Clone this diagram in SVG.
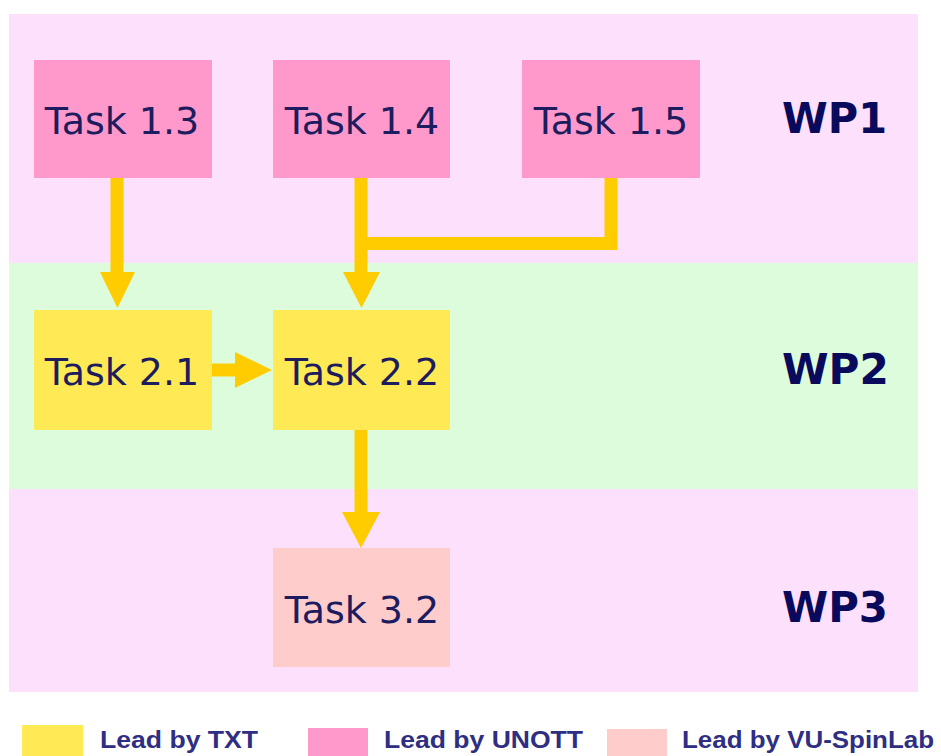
<svg xmlns="http://www.w3.org/2000/svg" width="941" height="756" viewBox="0 0 941 756">
  <style>
    .task text { font-family: "DejaVu Sans", Verdana, sans-serif; font-size: 38px; fill: #1c1c5e; text-anchor: middle; }
    .wp { font-family: "DejaVu Sans", Verdana, sans-serif; font-size: 42px; font-weight: bold; fill: #0a0a5c; }
    .legend text { font-family: "Liberation Sans", Arial, sans-serif; font-size: 24px; font-weight: bold; fill: #2e2e82; }
    .wp1 { fill: #ff99cc; }
    .wp2 { fill: #ffe955; }
    .wp3 { fill: #ffcccc; }
    .link { fill: none; stroke: #ffcc00; stroke-width: 13; }
    .head { fill: #ffcc00; }
  </style>

  <rect width="941" height="756" fill="#ffffff"/>

  <!-- work-package bands -->
  <g id="bands">
    <rect x="9" y="14" width="909" height="249" fill="#fde0fb"/>
    <rect x="9" y="263" width="909" height="226" fill="#ddfcdc"/>
    <rect x="9" y="489" width="909" height="203" fill="#fde0fb"/>
  </g>

  <!-- connectors -->
  <g id="connectors">
    <path class="link" d="M117,178 V273"/>
    <polygon class="head" points="100,272 135,272 117.5,308"/>

    <path class="link" d="M361,178 V273"/>
    <path class="link" d="M611,178 V243.5 H361"/>
    <polygon class="head" points="343,272 380,272 361.5,308"/>

    <path class="link" d="M212,370 H236"/>
    <polygon class="head" points="235,352 235,388 272,370"/>

    <path class="link" d="M361,430 V513"/>
    <polygon class="head" points="342,512 380,512 361,548"/>
  </g>

  <g id="task-1-3" class="task">
    <rect class="wp1" x="34" y="60" width="178" height="118"/>
    <text x="122" y="134">Task 1.3</text>
  </g>
  <g id="task-1-4" class="task">
    <rect class="wp1" x="273" y="60" width="177" height="118"/>
    <text x="362" y="134">Task 1.4</text>
  </g>
  <g id="task-1-5" class="task">
    <rect class="wp1" x="522" y="60" width="178" height="118"/>
    <text x="611" y="134">Task 1.5</text>
  </g>
  <g id="task-2-1" class="task">
    <rect class="wp2" x="34" y="310" width="178" height="120"/>
    <text x="122" y="385">Task 2.1</text>
  </g>
  <g id="task-2-2" class="task">
    <rect class="wp2" x="273" y="310" width="177" height="120"/>
    <text x="362" y="385">Task 2.2</text>
  </g>
  <g id="task-3-2" class="task">
    <rect class="wp3" x="273" y="548" width="177" height="119"/>
    <text x="362" y="623">Task 3.2</text>
  </g>

  <!-- work-package labels -->
  <g id="wp-labels">
    <text class="wp" x="782" y="133" textLength="105" lengthAdjust="spacingAndGlyphs">WP1</text>
    <text class="wp" x="782" y="384" textLength="107" lengthAdjust="spacingAndGlyphs">WP2</text>
    <text class="wp" x="782" y="622" textLength="106" lengthAdjust="spacingAndGlyphs">WP3</text>
  </g>

  <!-- legend -->
  <g id="legend" class="legend">
    <rect class="wp2" x="22" y="725" width="61" height="31"/>
    <text x="100" y="748" textLength="158" lengthAdjust="spacingAndGlyphs">Lead by TXT</text>
    <rect class="wp1" x="308" y="728" width="60" height="28"/>
    <text x="384" y="748" textLength="199" lengthAdjust="spacingAndGlyphs">Lead by UNOTT</text>
    <rect class="wp3" x="607" y="729" width="60" height="27"/>
    <text x="682" y="748" textLength="252" lengthAdjust="spacingAndGlyphs">Lead by VU-SpinLab</text>
  </g>
</svg>
